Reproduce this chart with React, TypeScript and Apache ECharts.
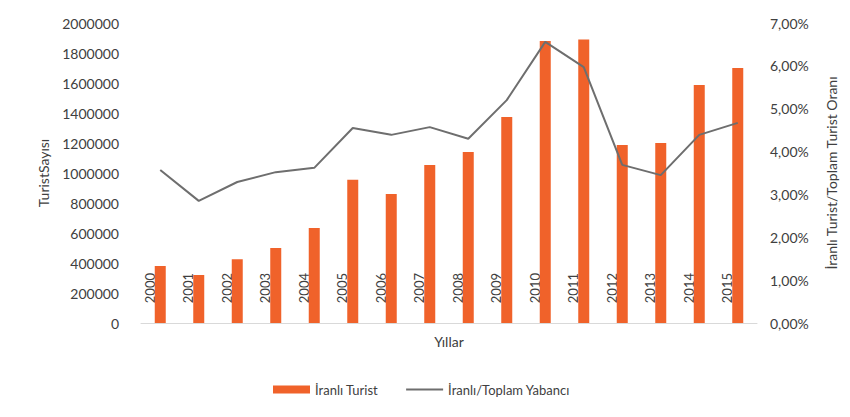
import React, { useEffect, useRef } from "react";
import * as echarts from "echarts";

const years = ["2000","2001","2002","2003","2004","2005","2006","2007","2008","2009","2010","2011","2012","2013","2014","2015"];
const iranTourists = [380000, 320000, 425000, 500000, 633000, 955000, 860000, 1053000, 1140000, 1373000, 1880000, 1890000, 1187000, 1200000, 1587000, 1700000];
const iranShare = [3.57, 2.85, 3.29, 3.52, 3.62, 4.55, 4.39, 4.57, 4.3, 5.2, 6.56, 5.97, 3.69, 3.45, 4.39, 4.67];
const leftTicks = { min: 0, max: 2000000, interval: 200000 };
const rightTicks = { min: 0, max: 7, interval: 1 };

const FONT = "Lato";
const TXT = "#404040";

export default function App() {
  const ref = useRef<HTMLDivElement>(null);
  useEffect(() => {
    const chart = echarts.init(ref.current!, null, { renderer: "svg" });
    chart.setOption({
      animation: false,
      backgroundColor: "#ffffff",
      textStyle: { fontFamily: FONT },
      grid: { left: 141, right: 93, top: 23, bottom: 94, containLabel: false },
      legend: {
        left: 268,
        top: 378,
        itemGap: 27,
        itemWidth: 37,
        itemHeight: 8,
        textStyle: { fontFamily: FONT, fontSize: 13, color: TXT },
        data: [
          { name: "İranlı Turist", icon: "rect" },
          { name: "İranlı/Toplam Yabancı", itemStyle: { opacity: 0 } },
        ],
      },
      xAxis: {
        type: "category",
        data: years,
        boundaryGap: true,
        name: "Yıllar",
        nameLocation: "middle",
        nameGap: 11,
        nameTextStyle: { fontFamily: FONT, fontSize: 14, color: TXT, verticalAlign: "top" },
        axisLine: { show: true, lineStyle: { color: "#d9d9d9", width: 1 } },
        axisTick: { show: false },
        axisLabel: {
          rotate: 90,
          margin: -50,
          interval: 0,
          verticalAlign: "bottom",
          padding: [0, 0, 4, 0],
          fontFamily: FONT,
          fontSize: 13,
          color: TXT,
        },
      },
      yAxis: [
        {
          type: "value",
          min: leftTicks.min,
          max: leftTicks.max,
          interval: leftTicks.interval,
          name: "TuristSayısı",
          nameLocation: "middle",
          nameGap: 91,
          nameRotate: 90,
          nameTextStyle: { fontFamily: FONT, fontSize: 14, color: TXT },
          axisLine: { show: false },
          axisTick: { show: false },
          splitLine: { show: false },
          axisLabel: {
            margin: 22,
            fontFamily: FONT,
            fontSize: 14,
            color: TXT,
            formatter: (v: number) => String(v),
          },
        },
        {
          type: "value",
          min: rightTicks.min,
          max: rightTicks.max,
          interval: rightTicks.interval,
          position: "right",
          name: "İranlı Turist/Toplam Turist Oranı",
          nameLocation: "middle",
          nameGap: 67,
          nameRotate: 90,
          nameTextStyle: { fontFamily: FONT, fontSize: 14, color: TXT },
          axisLine: { show: false },
          axisTick: { show: false },
          splitLine: { show: false },
          axisLabel: {
            margin: 13,
            fontFamily: FONT,
            fontSize: 14,
            color: TXT,
            formatter: (v: number) => v.toFixed(2).replace(".", ",") + "%",
          },
        },
      ],
      series: [
        {
          name: "İranlı Turist",
          type: "bar",
          data: iranTourists,
          barWidth: 11,
          yAxisIndex: 0,
          itemStyle: { color: "#F0622A" },
        },
        {
          name: "İranlı/Toplam Yabancı",
          type: "line",
          data: iranShare,
          yAxisIndex: 1,
          symbol: "none",
          lineStyle: { color: "#6e6e6e", width: 2 },
          itemStyle: { color: "#6e6e6e" },
        },
      ],
    });
    return () => chart.dispose();
  }, []);
  return (
    <div
      ref={ref}
      style={{ position: "fixed", left: 0, top: 0, width: 850, height: 417 }}
    />
  );
}
